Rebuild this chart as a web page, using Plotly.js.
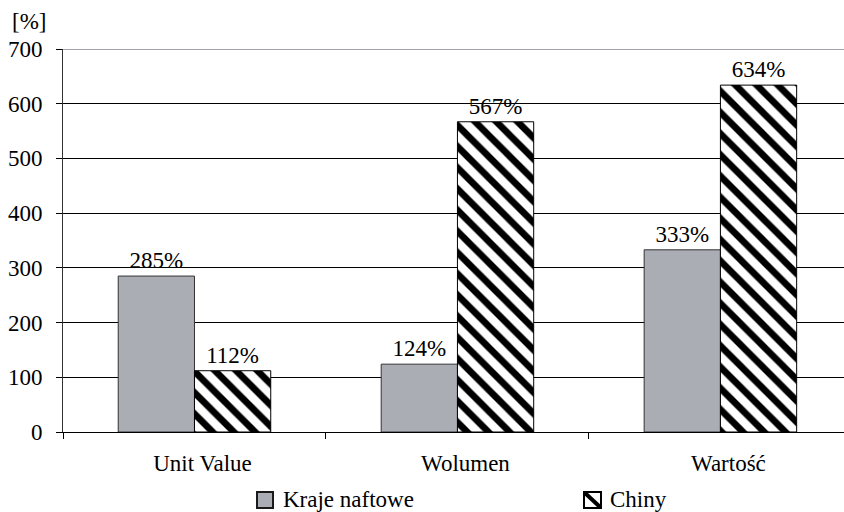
<!DOCTYPE html>
<html>
<head>
<meta charset="utf-8">
<script src="https://cdn.plot.ly/plotly-3.0.1.min.js"></script>
<style>html,body{margin:0;padding:0;background:#fff;}#chart{width:844px;height:512px;}</style>
</head>
<body>
<div id="chart"></div>
<script>
const categories = ["Unit Value", "Wolumen", "Wartość"];
const krajeNaftowe = [285, 124, 333];
const chiny = [112, 567, 634];
const seriesNames = ["Kraje naftowe", "Chiny"];
const yTicks = [0, 100, 200, 300, 400, 500, 600, 700];

const FONT = "Liberation Serif";
const FS = 23;
const GREY = "#aaadb4";

const traces = [
  {
    type: "bar",
    name: seriesNames[0],
    x: categories,
    y: krajeNaftowe,
    marker: {color: GREY, line: {color: "#333333", width: 1}},
    text: krajeNaftowe.map(v => v + "%"),
    textposition: "outside",
    constraintext: "none",
    cliponaxis: false,
    textfont: {family: FONT, size: FS, color: "#000"}
  },
  {
    type: "bar",
    name: seriesNames[1],
    x: categories,
    y: chiny,
    marker: {
      color: "#ffffff",
      line: {color: "#000000", width: 1},
      pattern: {shape: "\\", size: 15, solidity: 0.45, fgcolor: "#000000", bgcolor: "#ffffff", fgopacity: 1, fillmode: "replace"}
    },
    text: chiny.map(v => v + "%"),
    textposition: "outside",
    constraintext: "none",
    cliponaxis: false,
    textfont: {family: FONT, size: FS, color: "#000"}
  }
];

// legend drawn by hand (swatch boxes + labels), positions in paper units
const PL = 63, PW = 781, PB = 432, PH = 383;
const px = v => (v - PL) / PW;
const py = v => (PB - v) / PH;
const sw = [{x0: 257, x1: 273}, {x0: 584, x1: 601}];
const swY0 = py(508), swY1 = py(492);

const layout = {
  width: 844,
  height: 512,
  margin: {l: 63, r: 0, t: 49, b: 80, pad: 0, autoexpand: false},
  paper_bgcolor: "#fff",
  plot_bgcolor: "#fff",
  font: {family: FONT, size: FS, color: "#000"},
  barmode: "group",
  bargap: 0.42,
  bargroupgap: 0,
  showlegend: false,
  xaxis: {
    type: "category",
    range: [-0.5, 2.47],
    tickson: "boundaries",
    ticks: "outside",
    ticklen: 6,
    tickcolor: "#000",
    tickwidth: 1,
    showgrid: false,
    showline: true,
    linecolor: "#000",
    linewidth: 1,
    ticklabelstandoff: 10,
    ticklabelshift: 8,
    tickfont: {family: FONT, size: FS, color: "#000"},
    fixedrange: true
  },
  yaxis: {
    range: [0, 700],
    tickvals: yTicks,
    ticks: "outside",
    ticklen: 6,
    tickcolor: "#000",
    showgrid: true,
    gridcolor: "#000",
    gridwidth: 1,
    showline: true,
    linecolor: "#333",
    linewidth: 1,
    zeroline: false,
    ticklabelstandoff: 9,
    tickfont: {family: FONT, size: FS, color: "#000"},
    fixedrange: true
  },
  shapes: [
    {type: "line", xref: "paper", yref: "y", x0: 0, x1: 1, y0: 700, y1: 700, line: {color: "#a0a3a8", width: 2}, layer: "above"},
    {type: "rect", xref: "paper", yref: "paper", x0: px(sw[0].x0), x1: px(sw[0].x1), y0: swY0, y1: swY1, fillcolor: GREY, line: {color: "#1a1a1a", width: 2}},
    {type: "rect", xref: "paper", yref: "paper", x0: px(sw[1].x0), x1: px(sw[1].x1), y0: swY0, y1: swY1, fillcolor: "#ffffff", line: {color: "#000", width: 2}},
    {type: "line", xref: "paper", yref: "paper", x0: px(sw[1].x0 + 1), x1: px(sw[1].x1 - 1), y0: py(493), y1: py(507), line: {color: "#000", width: 4}}
  ],
  annotations: [
    {text: "[%]", xref: "paper", yref: "paper", x: -0.068, y: 1.0, xanchor: "left", yanchor: "bottom", yshift: 13, showarrow: false, font: {family: FONT, size: FS, color: "#000"}},
    {text: seriesNames[0], xref: "paper", yref: "paper", x: px(281), y: py(499), xanchor: "left", yanchor: "middle", showarrow: false, font: {family: FONT, size: FS, color: "#000"}},
    {text: seriesNames[1], xref: "paper", yref: "paper", x: px(608), y: py(499), xanchor: "left", yanchor: "middle", showarrow: false, font: {family: FONT, size: FS, color: "#000"}}
  ]
};

Plotly.newPlot("chart", traces, layout, {displayModeBar: false, staticPlot: true});
</script>
</body>
</html>
